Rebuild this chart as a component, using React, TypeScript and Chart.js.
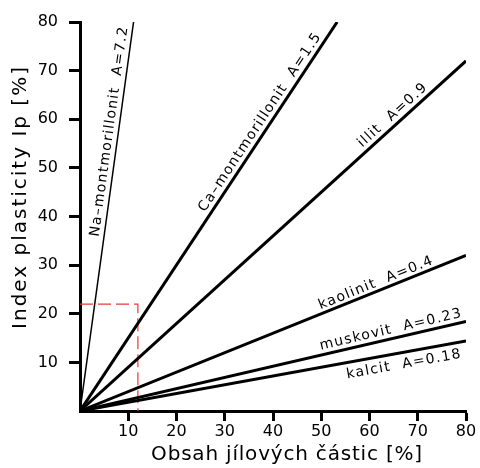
import React, { useEffect, useRef } from "react";
import { Chart, registerables } from "chart.js";

Chart.register(...registerables);

// ---- data ----
const seriesLabels = [
  "Na–montmorillonit  A=7.2",
  "Ca–montmorillonit  A=1.5",
  "illit  A=0.9",
  "kaolinit  A=0.4",
  "muskovit  A=0.23",
  "kalcit  A=0.18",
];
const naMontmorillonit = [{ x: 0, y: 0 }, { x: 11.1, y: 80 }];
const caMontmorillonit = [{ x: 0, y: 0 }, { x: 53.3, y: 80 }];
const illit = [{ x: 0, y: 0 }, { x: 80, y: 72 }];
const kaolinit = [{ x: 0, y: 0 }, { x: 80, y: 32 }];
const muskovit = [{ x: 0, y: 0 }, { x: 80, y: 18.4 }];
const kalcit = [{ x: 0, y: 0 }, { x: 80, y: 14.4 }];
const markerBox = [{ x: 0, y: 22 }, { x: 12, y: 22 }, { x: 12, y: 0 }];

const xTitle = "Obsah jílových částic [%]";
const yTitle = "Index plasticity Ip [%]";
const axisMin = 0;
const axisMax = 80;
const axisStep = 10;

const FONT = "'DejaVu Sans', sans-serif";

// label placement along each line: fraction along segment, side (+1 above / -1 below), gap
const labelPlacement = [
  { t: 0.716, side: 1, gap: 2 },
  { t: 0.73, side: 1, gap: 2 },
  { t: 0.826, side: 1, gap: 2 },
  { t: 0.775, side: 1, gap: 1 },
  { t: 0.811, side: 1, gap: 2 },
  { t: 0.834, side: -1, gap: 5 },
];

const lineLabelPlugin = {
  id: "lineLabels",
  afterDatasetsDraw(chart: any) {
    const ctx = chart.ctx as CanvasRenderingContext2D;
    ctx.save();
    ctx.font = `14px ${FONT}`;
    (ctx as any).letterSpacing = "1.3px";
    ctx.fillStyle = "#000";
    ctx.textAlign = "center";
    labelPlacement.forEach((pl, i) => {
      const meta = chart.getDatasetMeta(i);
      const p0 = meta.data[0];
      const p1 = meta.data[1];
      const ang = Math.atan2(p1.y - p0.y, p1.x - p0.x);
      const px = p0.x + pl.t * (p1.x - p0.x);
      const py = p0.y + pl.t * (p1.y - p0.y);
      ctx.save();
      ctx.translate(px, py);
      ctx.rotate(ang);
      if (pl.side > 0) {
        ctx.textBaseline = "bottom";
        ctx.fillText(seriesLabels[i], 0, -pl.gap);
      } else {
        ctx.textBaseline = "top";
        ctx.fillText(seriesLabels[i], 0, pl.gap);
      }
      ctx.restore();
    });
    ctx.restore();
  },
  afterDraw(chart: any) {
    const ctx = chart.ctx as CanvasRenderingContext2D;
    ctx.save();
    ctx.font = `20px ${FONT}`;
    ctx.fillStyle = "#000";
    ctx.textAlign = "center";
    (ctx as any).letterSpacing = "0.8px";
    ctx.textBaseline = "alphabetic";
    ctx.fillText(xTitle, 287, 460);
    (ctx as any).letterSpacing = "2px";
    ctx.textBaseline = "middle";
    ctx.translate(21, 197);
    ctx.rotate(-Math.PI / 2);
    ctx.fillText(yTitle, 0, 0);
    ctx.restore();
  },
};

const tickColor = (c: any) =>
  c.tick && c.tick.value === 0 ? "rgba(0,0,0,0)" : "#000";

export default function App() {
  const ref = useRef<HTMLCanvasElement | null>(null);
  useEffect(() => {
    if (!ref.current) return;
    const line = (data: any[], w: number) => ({
      data,
      showLine: true,
      borderColor: "#000",
      borderWidth: w,
      pointRadius: 0,
      fill: false,
    });
    const chart = new Chart(ref.current, {
      type: "scatter",
      data: {
        datasets: [
          line(naMontmorillonit, 1.5),
          line(caMontmorillonit, 3),
          line(illit, 3),
          line(kaolinit, 3),
          line(muskovit, 3),
          line(kalcit, 3),
          {
            data: markerBox,
            showLine: true,
            borderColor: "#e8383d",
            borderWidth: 1.2,
            borderDash: [13, 5],
            pointRadius: 0,
            fill: false,
          },
        ],
      },
      options: {
        animation: false,
        responsive: false,
        layout: { padding: { top: 22, right: 14, left: 0, bottom: 0 } },
        plugins: { legend: { display: false }, tooltip: { enabled: false } },
        scales: {
          x: {
            type: "linear",
            min: axisMin,
            max: axisMax,
            afterFit: (s: any) => {
              s.height = 57;
            },
            ticks: {
              stepSize: axisStep,
              color: "#000",
              font: { family: FONT, size: 16 },
              padding: 1,
              maxRotation: 0,
              callback: (v: any) => (v === 0 ? "" : String(v)),
            },
            grid: {
              drawOnChartArea: false,
              drawTicks: true,
              tickLength: 10,
              tickWidth: 3,
              tickColor,
            },
            border: { display: true, width: 3, color: "#000" },
          },
          y: {
            type: "linear",
            min: axisMin,
            max: axisMax,
            afterFit: (s: any) => {
              s.width = 80;
            },
            ticks: {
              stepSize: axisStep,
              color: "#000",
              font: { family: FONT, size: 16 },
              padding: 11,
              callback: (v: any) => (v === 0 ? "" : String(v)),
            },
            grid: {
              drawOnChartArea: false,
              drawTicks: true,
              tickLength: 11,
              tickWidth: 3,
              tickColor,
            },
            border: { display: true, width: 3, color: "#000" },
          },
        },
      },
      plugins: [lineLabelPlugin],
    } as any);
    return () => chart.destroy();
  }, []);
  return (
    <div style={{ position: "absolute", left: 0, top: 0, width: 480, height: 468, background: "#fff" }}>
      <canvas ref={ref} width={480} height={468} style={{ display: "block" }} />
    </div>
  );
}
